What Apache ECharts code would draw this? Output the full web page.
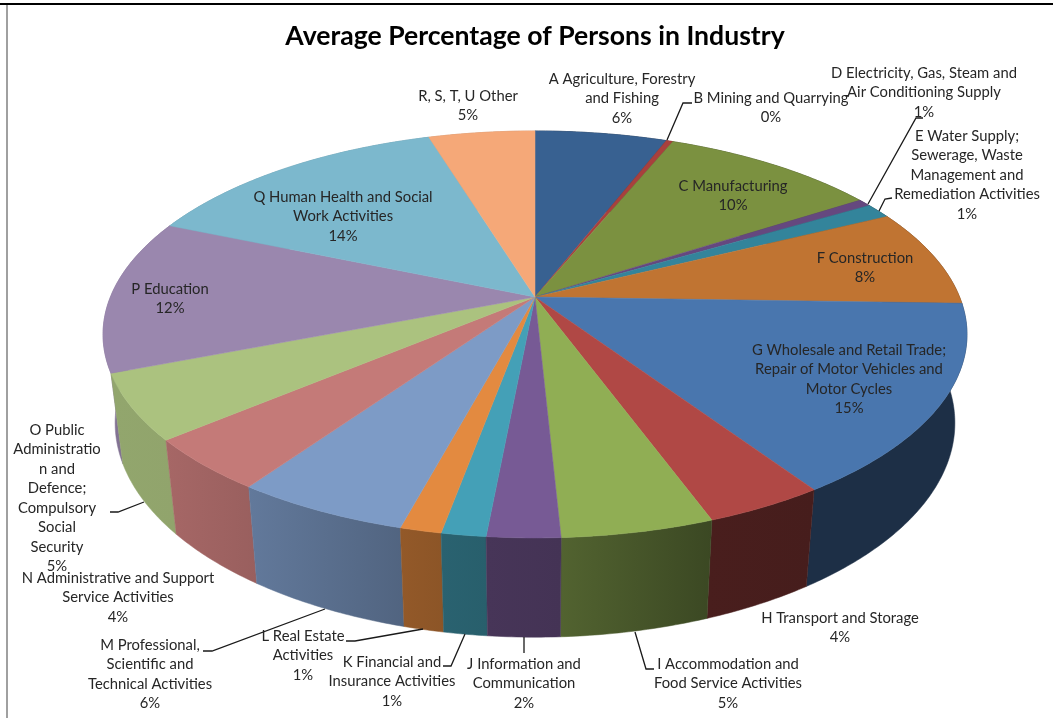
<!DOCTYPE html>
<html>
<head>
<meta charset="utf-8">
<style>html,body{margin:0;padding:0;background:#fff}#chart{width:1053px;height:718px}</style>
<script src="https://cdn.jsdelivr.net/npm/echarts@6/dist/echarts.min.js"></script>
</head>
<body>
<div id="chart"></div>
<script>
// Average share of persons employed, by industry section (percent)
const industries = [
  'A Agriculture, Forestry\nand Fishing',
  'B Mining and Quarrying',
  'C Manufacturing',
  'D Electricity, Gas, Steam and\nAir Conditioning Supply',
  'E Water Supply;\nSewerage, Waste\nManagement and\nRemediation Activities',
  'F Construction',
  'G Wholesale and Retail Trade;\nRepair of Motor Vehicles and\nMotor Cycles',
  'H Transport and Storage',
  'I Accommodation and\nFood Service Activities',
  'J Information and\nCommunication',
  'K Financial and\nInsurance Activities',
  'L Real Estate\nActivities',
  'M Professional,\nScientific and\nTechnical Activities',
  'N Administrative and Support\nService Activities',
  'O Public\nAdministratio\nn and\nDefence;\nCompulsory\nSocial\nSecurity',
  'P Education',
  'Q Human Health and Social\nWork Activities',
  'R, S, T, U Other'
];
const shares = [5.9, 0.3, 9.7, 0.6, 1.2, 7.8, 15.1, 3.8, 4.8, 2.3, 1.4, 1.3, 5.5, 4.2, 5.2, 12.25, 13.9, 4.75];

const sliceColors = ['#386191', '#a8403d', '#7b9140', '#65487f', '#33849b', '#c07432',
  '#4976ae', '#b04845', '#90ae54', '#775a95', '#44a0b7', '#e38a40',
  '#7d9bc6', '#c47a78', '#abc27f', '#9a87ae', '#7cb8cd', '#f5a878'];

// Label block centre x and first row y, one row per industry
const labelAnchors = [[622, 79], [771, 98], [733, 186], [924, 73], [967, 136], [865, 258],
  [849, 350], [840, 618], [728, 664], [524, 664], [392, 662], [303, 636],
  [150, 645], [118, 578], [57, 430], [170, 289], [343, 197], [468, 96]];

// Leader lines from the rim out to their label
const leaders = [
  [[667, 140], [683, 103], [692, 103]],
  [[868, 204], [916, 118], [923, 118]],
  [[879, 211], [885, 199], [892, 198]],
  [[635, 632], [646, 669], [654, 669]],
  [[524, 637], [524, 653]],
  [[465, 634], [451, 666], [443, 666]],
  [[423, 629], [355, 641], [346, 641]],
  [[325, 609], [212, 651], [203, 651]],
  [[144, 502], [118, 512], [110, 512]]
];

// Perspective model of the disc: unit circle on the ground plane, viewer at +z
const view = { cx: 535, cy: 297, fx: 424.6, fy: 196.6, k: 0.184, depth: 86.5, floor: 0.972 };

function rimPoint(theta, lower) {
  const x = Math.sin(theta), z = -Math.cos(theta);
  const w = 1 - view.k * z;
  const px = view.fx * x / w, py = view.fy * z / w;
  return lower
    ? [view.cx + px * view.floor, view.cy + py * view.floor + view.depth / w]
    : [view.cx + px, view.cy + py];
}

function arc(a0, a1, lower) {
  const n = Math.max(2, Math.ceil((a1 - a0) / 0.01));
  const pts = [];
  for (let i = 0; i <= n; i++) pts.push(rimPoint(a0 + (a1 - a0) * i / n, lower));
  return pts;
}

const total = shares.reduce((a, b) => a + b, 0);
const spans = [];
shares.reduce((run, v) => {
  const next = run + v;
  spans.push([run / total * Math.PI * 2, next / total * Math.PI * 2]);
  return next;
}, 0);

// Wall brightness as the rim turns from the dark right side to the lit left side
const wallShade = [[0, 0.4], [150, 0.4], [165, 0.42], [177, 0.46], [177.1, 0.57], [188, 0.6], [193, 0.63],
  [205, 0.73], [222, 0.82], [240, 0.88], [270, 0.8], [360, 0.8]];

function shadeAt(rad) {
  const deg = rad * 180 / Math.PI;
  for (let i = 1; i < wallShade.length; i++) {
    if (deg <= wallShade[i][0]) {
      const a = wallShade[i - 1], b = wallShade[i];
      return a[1] + (b[1] - a[1]) * (deg - a[0]) / (b[0] - a[0]);
    }
  }
  return 0.8;
}

function scaled(hex, f) {
  const n = parseInt(hex.slice(1), 16);
  return 'rgb(' + [n >> 16, (n >> 8) & 255, n & 255].map(c => Math.round(c * f)).join(',') + ')';
}

// Walls are painted back to front, so nearer walls cover farther ones
const wallOrder = shares.map((_, i) => i).sort((p, q) => {
  const dist = i => Math.abs((spans[i][0] + spans[i][1]) / 2 - Math.PI);
  return dist(q) - dist(p);
});

const chart = echarts.init(document.getElementById('chart'), null, { renderer: 'canvas' });
const labelFont = 'Lato, "Open Sans", sans-serif';

chart.setOption({
  animation: false,
  backgroundColor: '#ffffff',
  title: {
    text: 'Average Percentage of Persons in Industry',
    left: 530, top: 18, textAlign: 'center',
    textStyle: { fontFamily: labelFont, fontWeight: 'bold', fontSize: 26.6, color: '#000' }
  },
  graphic: [
    { type: 'rect', silent: true, shape: { x: 6, y: 4, width: 2, height: 714 }, style: { fill: '#a0a0a0' } },
    { type: 'rect', silent: true, shape: { x: 0, y: 3, width: 1053, height: 2 }, style: { fill: '#000' } }
  ],
  series: [
    {
      type: 'custom', coordinateSystem: 'none', silent: true, z: 2,
      data: wallOrder.map(i => [i]),
      renderItem(params, api) {
        const i = api.value(0);
        const [a0, a1] = spans[i];
        const points = arc(a0, a1, false).concat(arc(a0, a1, true).reverse());
        const xs = points.map(p => p[0]);
        const minX = Math.min(...xs), maxX = Math.max(...xs);
        const leftFirst = rimPoint(a0, false)[0] < rimPoint(a1, false)[0];
        const cLeft = scaled(sliceColors[i], shadeAt(leftFirst ? a0 : a1));
        const cRight = scaled(sliceColors[i], shadeAt(leftFirst ? a1 : a0));
        const fill = new echarts.graphic.LinearGradient(minX, 0, maxX, 0,
          [{ offset: 0, color: cLeft }, { offset: 1, color: cRight }], true);
        return { type: 'polygon', shape: { points }, style: { fill, stroke: fill, lineWidth: 0.5 } };
      }
    },
    {
      type: 'custom', coordinateSystem: 'none', silent: true, z: 3,
      data: shares.map((_, i) => [i]),
      renderItem(params, api) {
        const i = api.value(0);
        const [a0, a1] = spans[i];
        const points = [[view.cx, view.cy]].concat(arc(a0, a1, false));
        return { type: 'polygon', shape: { points }, style: { fill: sliceColors[i], stroke: sliceColors[i], lineWidth: 0.5 } };
      }
    },
    {
      type: 'custom', coordinateSystem: 'none', silent: true, z: 4,
      data: leaders.map((_, i) => [i]),
      renderItem(params, api) {
        return {
          type: 'polyline',
          shape: { points: leaders[api.value(0)] },
          style: { fill: 'none', stroke: '#1a1a1a', lineWidth: 1.3 }
        };
      }
    },
    {
      type: 'custom', coordinateSystem: 'none', silent: true, z: 5,
      data: shares.map((_, i) => [i]),
      renderItem(params, api) {
        const i = api.value(0);
        const rows = industries[i].split('\n').concat(Math.round(shares[i]) + '%');
        const [cx, y0] = labelAnchors[i];
        return {
          type: 'group',
          children: rows.map((text, r) => ({
            type: 'text',
            style: {
              text, x: cx, y: y0 + r * 19.5,
              align: 'center', verticalAlign: 'middle',
              fontFamily: labelFont, fontSize: 14.8, fill: '#262626'
            }
          }))
        };
      }
    }
  ]
});
</script>
</body>
</html>
